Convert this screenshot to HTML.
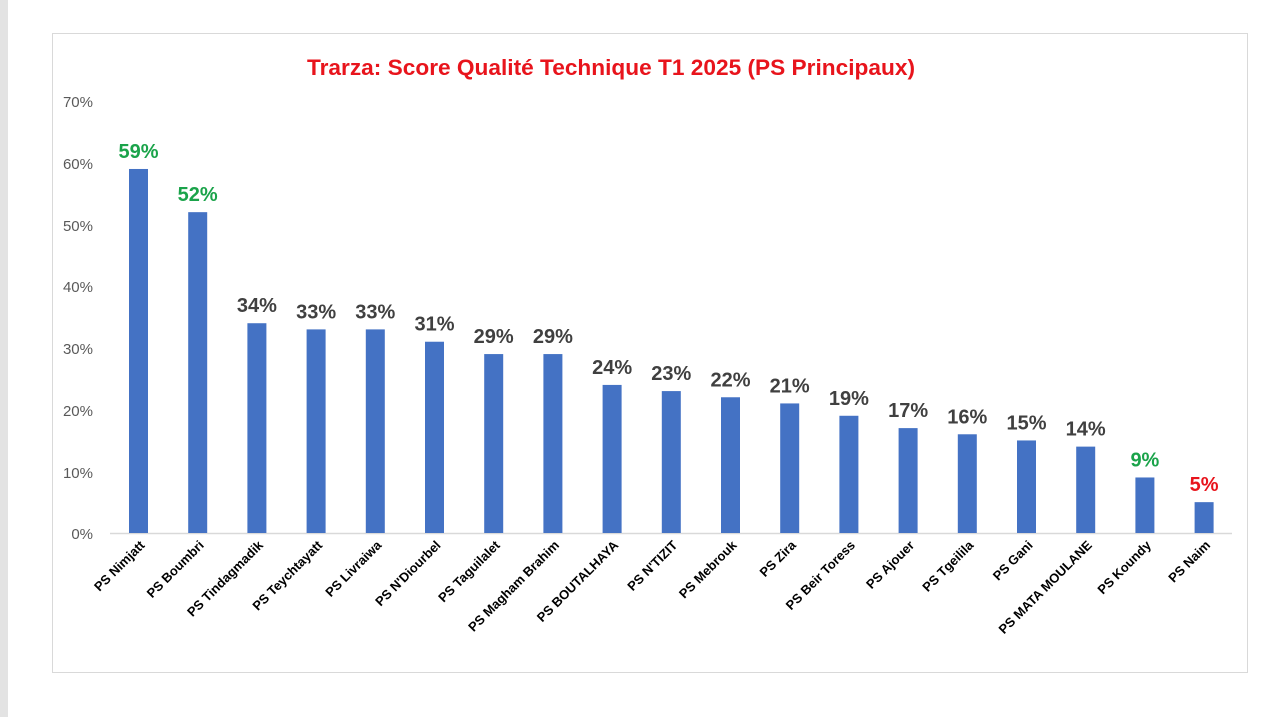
<!DOCTYPE html>
<html><head><meta charset="utf-8"><style>
html,body{margin:0;padding:0;background:#fff;width:1280px;height:717px;overflow:hidden}
</style></head><body>
<svg width="1280" height="717" xmlns="http://www.w3.org/2000/svg" font-family="Liberation Sans, sans-serif">
<rect x="0" y="0" width="8" height="717" fill="#e3e3e3"/>
<rect x="52.5" y="33.5" width="1195" height="639" fill="#fff" stroke="#d9d9d9"/>
<text x="611" y="75" text-anchor="middle" font-size="22" font-weight="bold" fill="#e8141c" textLength="608" lengthAdjust="spacingAndGlyphs">Trarza: Score Qualité  Technique T1 2025 (PS Principaux)</text>
<g font-size="15" fill="#595959" text-anchor="end">
<text x="93" y="107">70%</text><text x="93" y="169">60%</text><text x="93" y="231">50%</text>
<text x="93" y="292">40%</text><text x="93" y="354">30%</text><text x="93" y="416">20%</text>
<text x="93" y="478">10%</text><text x="93" y="539">0%</text>
</g>
<line x1="110" y1="533.5" x2="1232" y2="533.5" stroke="#d9d9d9" stroke-width="1.5"/>
<g id="bars"></g>
</svg>
<script>
var d=[["PS Nimjatt",59,"#1aa34a"],["PS Boumbri",52,"#1aa34a"],["PS Tindagmadik",34],["PS Teychtayatt",33],["PS Livraiwa",33],["PS N'Diourbel",31],["PS Taguilalet",29],["PS Magham Brahim",29],["PS BOUTALHAYA",24],["PS N'TIZIT",23],["PS Mebrouk",22],["PS Zira",21],["PS Beir Toress",19],["PS Ajouer",17],["PS Tgeilila",16],["PS Gani",15],["PS MATA MOULANE",14],["PS Koundy",9,"#1aa34a"],["PS Naim",5,"#e8141c"]];
var g=document.getElementById('bars'),s='';
d.forEach(function(e,i){var cx=138.5+i*59.2,h=e[1]*6.17,y=533-h;
s+='<rect x="'+(cx-9.5)+'" y="'+y+'" width="19" height="'+h+'" fill="#4472c4"/>';
s+='<text x="'+cx+'" y="'+(y-11)+'" text-anchor="middle" font-size="20" font-weight="bold" fill="'+(e[2]||'#404040')+'">'+e[1]+'%</text>';
s+='<text transform="translate('+(cx+7)+',546) rotate(-45)" text-anchor="end" font-size="13" font-weight="bold" fill="#000">'+e[0].replace(/'/g,"&#39;")+'</text>';});
g.innerHTML=s;
</script>
</body></html>
